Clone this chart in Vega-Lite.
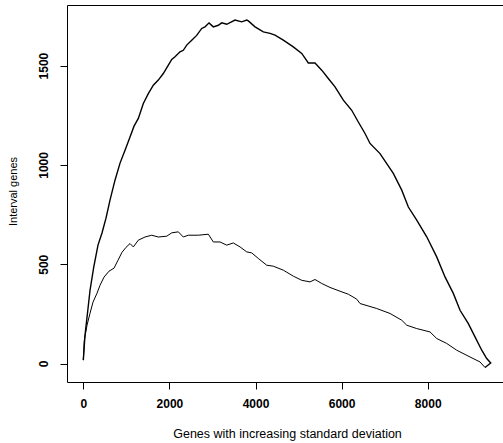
{
  "$schema": "https://vega.github.io/schema/vega-lite/v6.json",
  "autosize": {"type": "none"},
  "width": 436,
  "height": 377,
  "padding": {"left": 67, "top": 5, "right": 0, "bottom": 61},
  "background": "white",
  "config": {
    "view": {"stroke": "black", "strokeWidth": 1},
    "font": "Liberation Sans",
    "axis": {
      "domain": false,
      "grid": false,
      "ticks": true,
      "tickColor": "black",
      "tickSize": 7,
      "tickWidth": 1,
      "labelColor": "black",
      "labelFont": "Liberation Sans",
      "labelFontSize": 12,
      "labelFontWeight": "bold",
      "format": "d",
      "titleColor": "black",
      "titleFont": "Liberation Sans",
      "titleFontSize": 11,
      "titleFontWeight": "normal"
    }
  },
  "datasets": {
    "upper": [
      {"x": 0, "y": 17, "i": 0},
      {"x": 39, "y": 142, "i": 1},
      {"x": 86, "y": 233, "i": 2},
      {"x": 156, "y": 369, "i": 3},
      {"x": 242, "y": 485, "i": 4},
      {"x": 341, "y": 596, "i": 5},
      {"x": 434, "y": 657, "i": 6},
      {"x": 527, "y": 732, "i": 7},
      {"x": 620, "y": 823, "i": 8},
      {"x": 736, "y": 923, "i": 9},
      {"x": 853, "y": 1009, "i": 10},
      {"x": 969, "y": 1074, "i": 11},
      {"x": 1085, "y": 1140, "i": 12},
      {"x": 1178, "y": 1195, "i": 13},
      {"x": 1278, "y": 1234, "i": 14},
      {"x": 1394, "y": 1309, "i": 15},
      {"x": 1510, "y": 1359, "i": 16},
      {"x": 1626, "y": 1401, "i": 17},
      {"x": 1742, "y": 1427, "i": 18},
      {"x": 1858, "y": 1460, "i": 19},
      {"x": 1975, "y": 1502, "i": 20},
      {"x": 2054, "y": 1531, "i": 21},
      {"x": 2130, "y": 1544, "i": 22},
      {"x": 2246, "y": 1569, "i": 23},
      {"x": 2323, "y": 1577, "i": 24},
      {"x": 2402, "y": 1603, "i": 25},
      {"x": 2518, "y": 1628, "i": 26},
      {"x": 2634, "y": 1652, "i": 27},
      {"x": 2750, "y": 1687, "i": 28},
      {"x": 2827, "y": 1695, "i": 29},
      {"x": 2920, "y": 1715, "i": 30},
      {"x": 3020, "y": 1695, "i": 31},
      {"x": 3136, "y": 1703, "i": 32},
      {"x": 3215, "y": 1715, "i": 33},
      {"x": 3331, "y": 1708, "i": 34},
      {"x": 3524, "y": 1729, "i": 35},
      {"x": 3680, "y": 1720, "i": 36},
      {"x": 3796, "y": 1729, "i": 37},
      {"x": 3833, "y": 1725, "i": 38},
      {"x": 3989, "y": 1695, "i": 39},
      {"x": 4182, "y": 1670, "i": 40},
      {"x": 4337, "y": 1662, "i": 41},
      {"x": 4453, "y": 1653, "i": 42},
      {"x": 4646, "y": 1628, "i": 43},
      {"x": 4878, "y": 1594, "i": 44},
      {"x": 5074, "y": 1561, "i": 45},
      {"x": 5227, "y": 1513, "i": 46},
      {"x": 5382, "y": 1513, "i": 47},
      {"x": 5538, "y": 1477, "i": 48},
      {"x": 5691, "y": 1435, "i": 49},
      {"x": 5847, "y": 1393, "i": 50},
      {"x": 6040, "y": 1326, "i": 51},
      {"x": 6235, "y": 1275, "i": 52},
      {"x": 6388, "y": 1216, "i": 53},
      {"x": 6544, "y": 1158, "i": 54},
      {"x": 6660, "y": 1108, "i": 55},
      {"x": 6892, "y": 1057, "i": 56},
      {"x": 7201, "y": 957, "i": 57},
      {"x": 7397, "y": 873, "i": 58},
      {"x": 7550, "y": 788, "i": 59},
      {"x": 7745, "y": 722, "i": 60},
      {"x": 7977, "y": 638, "i": 61},
      {"x": 8209, "y": 537, "i": 62},
      {"x": 8402, "y": 436, "i": 63},
      {"x": 8595, "y": 353, "i": 64},
      {"x": 8751, "y": 268, "i": 65},
      {"x": 8944, "y": 201, "i": 66},
      {"x": 9099, "y": 134, "i": 67},
      {"x": 9255, "y": 67, "i": 68},
      {"x": 9371, "y": 25, "i": 69},
      {"x": 9464, "y": 3, "i": 70},
      {"x": 9332, "y": -20, "i": 71}
    ],
    "lower": [
      {"x": 0, "y": 17, "i": 0},
      {"x": 23, "y": 117, "i": 1},
      {"x": 86, "y": 193, "i": 2},
      {"x": 156, "y": 253, "i": 3},
      {"x": 225, "y": 309, "i": 4},
      {"x": 318, "y": 354, "i": 5},
      {"x": 388, "y": 394, "i": 6},
      {"x": 481, "y": 435, "i": 7},
      {"x": 597, "y": 465, "i": 8},
      {"x": 713, "y": 480, "i": 9},
      {"x": 806, "y": 520, "i": 10},
      {"x": 899, "y": 560, "i": 11},
      {"x": 992, "y": 585, "i": 12},
      {"x": 1085, "y": 604, "i": 13},
      {"x": 1162, "y": 587, "i": 14},
      {"x": 1278, "y": 621, "i": 15},
      {"x": 1433, "y": 637, "i": 16},
      {"x": 1589, "y": 646, "i": 17},
      {"x": 1742, "y": 637, "i": 18},
      {"x": 1937, "y": 641, "i": 19},
      {"x": 2054, "y": 658, "i": 20},
      {"x": 2207, "y": 663, "i": 21},
      {"x": 2323, "y": 637, "i": 22},
      {"x": 2439, "y": 646, "i": 23},
      {"x": 2672, "y": 646, "i": 24},
      {"x": 2904, "y": 651, "i": 25},
      {"x": 3020, "y": 612, "i": 26},
      {"x": 3176, "y": 612, "i": 27},
      {"x": 3331, "y": 596, "i": 28},
      {"x": 3485, "y": 607, "i": 29},
      {"x": 3641, "y": 587, "i": 30},
      {"x": 3796, "y": 562, "i": 31},
      {"x": 3912, "y": 557, "i": 32},
      {"x": 4065, "y": 529, "i": 33},
      {"x": 4260, "y": 495, "i": 34},
      {"x": 4414, "y": 490, "i": 35},
      {"x": 4646, "y": 470, "i": 36},
      {"x": 4878, "y": 440, "i": 37},
      {"x": 5074, "y": 419, "i": 38},
      {"x": 5267, "y": 411, "i": 39},
      {"x": 5382, "y": 423, "i": 40},
      {"x": 5538, "y": 403, "i": 41},
      {"x": 5731, "y": 383, "i": 42},
      {"x": 5963, "y": 364, "i": 43},
      {"x": 6156, "y": 349, "i": 44},
      {"x": 6351, "y": 324, "i": 45},
      {"x": 6428, "y": 302, "i": 46},
      {"x": 6816, "y": 277, "i": 47},
      {"x": 7125, "y": 252, "i": 48},
      {"x": 7397, "y": 218, "i": 49},
      {"x": 7513, "y": 193, "i": 50},
      {"x": 7745, "y": 176, "i": 51},
      {"x": 8054, "y": 159, "i": 52},
      {"x": 8209, "y": 126, "i": 53},
      {"x": 8442, "y": 101, "i": 54},
      {"x": 8674, "y": 67, "i": 55},
      {"x": 8983, "y": 33, "i": 56},
      {"x": 9215, "y": 8, "i": 57},
      {"x": 9332, "y": -20, "i": 58}
    ]
  },
  "encoding": {
    "x": {
      "field": "x",
      "type": "quantitative",
      "scale": {"domain": [-379, 9749], "nice": false, "zero": false},
      "axis": {
        "values": [0, 2000, 4000, 6000, 8000],
        "format": "d",
        "title": "Genes with increasing standard deviation",
        "titleFontSize": 12.5,
        "labelPadding": 9,
        "labelBaseline": "top",
        "labelFlush": false,
        "labelOverlap": false,
        "titleX": 220,
        "titleY": 51,
        "titleAnchor": "middle",
        "titleAlign": "center",
        "titleBaseline": "middle"
      }
    },
    "y": {
      "field": "y",
      "type": "quantitative",
      "scale": {"domain": [-93, 1805], "nice": false, "zero": false},
      "axis": {
        "values": [0, 500, 1000, 1500],
        "format": "d",
        "title": "Interval genes",
        "titleFontSize": 11,
        "labelAngle": 270,
        "labelAlign": "center",
        "labelBaseline": "alphabetic",
        "labelPadding": 13,
        "labelFlush": false,
        "labelOverlap": false,
        "titleAngle": 270,
        "titleX": -54,
        "titleY": 186,
        "titleAlign": "center",
        "titleBaseline": "middle"
      }
    },
    "order": {"field": "i", "type": "quantitative"}
  },
  "layer": [
    {
      "data": {"name": "upper"},
      "mark": {"type": "line", "color": "black", "strokeWidth": 1.4, "clip": true}
    },
    {
      "data": {"name": "lower"},
      "mark": {"type": "line", "color": "black", "strokeWidth": 1, "clip": true}
    }
  ]
}
